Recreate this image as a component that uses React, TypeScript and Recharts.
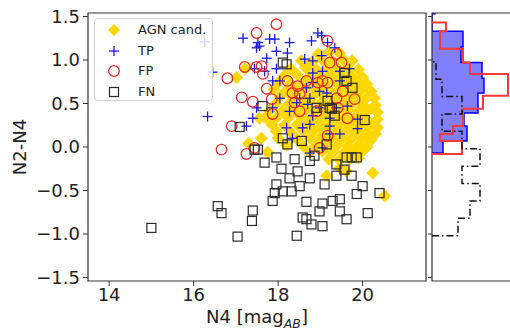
import React from 'react';
import { ScatterChart, Scatter, XAxis, YAxis, ReferenceArea, ComposedChart, Area, Line } from 'recharts';

const X_TICKS = [14, 16, 18, 20];
const Y_TICKS = [-1.5, -1, -0.5, 0, 0.5, 1, 1.5];

// [N4, N2-N4]
const AGN_CAND: [number, number][] = [
  [17.02, 0.8], [17.22, 0.9], [17.56, 0.33], [17.6, 0.1], [17.3, 0.04], [17.75, -0.06],
  [18.95, 1.07], [19.2, 1.09], [19.45, 1.08],
  [18.55, 0.99], [18.8, 0.98], [19.05, 1.0], [19.3, 0.98], [19.55, 1.0], [19.75, 0.99],
  [18.3, 0.9], [18.65, 0.91], [18.9, 0.89], [19.15, 0.9], [19.4, 0.91], [19.65, 0.9], [19.9, 0.89],
  [18.15, 0.82], [18.45, 0.83], [18.75, 0.81], [19.0, 0.82], [19.25, 0.83], [19.5, 0.82], [19.75, 0.81], [20.0, 0.8],
  [18.0, 0.74], [18.3, 0.73], [18.6, 0.74], [18.85, 0.75], [19.1, 0.73], [19.35, 0.74], [19.6, 0.74], [19.85, 0.73], [20.1, 0.72],
  [17.9, 0.66], [18.2, 0.65], [18.45, 0.66], [18.7, 0.67], [18.95, 0.66], [19.2, 0.65], [19.45, 0.66], [19.7, 0.66], [19.95, 0.65], [20.2, 0.64],
  [18.05, 0.58], [18.35, 0.57], [18.6, 0.58], [18.85, 0.59], [19.1, 0.58], [19.35, 0.57], [19.6, 0.58], [19.85, 0.58], [20.1, 0.57], [20.28, 0.56],
  [17.95, 0.5], [18.25, 0.49], [18.5, 0.5], [18.75, 0.51], [19.0, 0.5], [19.25, 0.49], [19.5, 0.5], [19.75, 0.5], [20.0, 0.49], [20.3, 0.48],
  [17.8, 0.42], [18.1, 0.41], [18.4, 0.42], [18.65, 0.43], [18.9, 0.42], [19.15, 0.41], [19.4, 0.42], [19.65, 0.42], [19.9, 0.41], [20.15, 0.42], [20.35, 0.4],
  [17.7, 0.34], [17.95, 0.33], [18.25, 0.34], [18.55, 0.35], [18.8, 0.34], [19.05, 0.33], [19.3, 0.34], [19.55, 0.34], [19.8, 0.33], [20.05, 0.34], [20.35, 0.32],
  [17.85, 0.26], [18.15, 0.25], [18.45, 0.26], [18.7, 0.27], [18.95, 0.26], [19.2, 0.25], [19.45, 0.26], [19.7, 0.26], [19.95, 0.25], [20.2, 0.26], [20.35, 0.22],
  [17.95, 0.18], [18.3, 0.17], [18.6, 0.18], [18.85, 0.19], [19.1, 0.18], [19.35, 0.17], [19.6, 0.18], [19.85, 0.18], [20.1, 0.17], [20.3, 0.15],
  [18.0, 0.1], [18.45, 0.09], [18.75, 0.1], [19.0, 0.11], [19.25, 0.1], [19.5, 0.09], [19.75, 0.1], [20.0, 0.1], [20.2, 0.08],
  [18.2, 0.02], [18.6, 0.01], [18.9, 0.02], [19.15, 0.03], [19.4, 0.02], [19.65, 0.01], [19.9, 0.02], [20.1, 0.0],
  [18.75, -0.06], [19.05, -0.05], [19.3, -0.06], [19.55, -0.07], [19.8, -0.06], [20.0, -0.05],
  [19.2, -0.14], [19.45, -0.15], [19.7, -0.14], [19.9, -0.13],
  [19.15, -0.33], [19.46, -0.24], [19.62, -0.28], [20.24, -0.3], [20.52, -0.56],
];

const TP: [number, number][] = [
  [16.26, 1.21], [17.17, 1.25], [16.45, 0.86], [16.33, 0.35], [17.25, 0.24], [17.4, 0.33], [17.49, 0.45], [17.49, 1.14], [17.44, 0.9],
  [17.52, 1.2], [17.56, 1.16], [17.8, 1.24], [17.92, 1.24], [18.27, 1.2], [17.96, 1.1], [18.22, 1.08], [18.79, 1.22], [18.94, 1.31],
  [19.03, 1.28], [19.17, 1.2], [19.34, 1.14], [17.73, 1.02], [17.68, 0.87], [17.96, 0.9], [18.04, 0.76], [17.87, 0.76], [18.63, 1.01],
  [18.82, 0.99], [19.03, 1.05], [18.82, 0.85], [19.05, 0.87], [19.46, 0.87], [19.69, 0.9], [19.46, 0.76], [18.82, 0.74], [18.67, 0.68],
  [18.98, 0.64], [19.15, 0.62], [18.04, 0.56], [18.51, 0.56], [18.75, 0.56], [17.87, 0.45], [18.27, 0.41], [18.44, 0.51], [18.7, 0.49],
  [18.82, 0.36], [18.98, 0.45], [19.22, 0.33], [19.38, 0.45], [19.64, 0.47], [19.88, 0.32], [18.2, 0.22], [18.58, 0.22], [18.75, 0.26],
  [19.22, 0.24], [19.46, 0.15], [19.88, 0.21], [18.34, 0.1], [19.22, 0.15], [19.05, -0.01], [18.75, -0.07],
];

const FP: [number, number][] = [
  [17.49, 1.31], [17.21, 0.92], [17.49, 0.92], [16.8, 0.79], [17.14, 0.57], [17.4, 0.52], [16.9, 0.24], [16.66, -0.03], [17.25, -0.08],
  [17.96, 1.41], [19.17, 1.22], [17.61, 0.93], [17.64, 0.84], [17.73, 0.67], [17.85, 0.55], [17.87, 0.38], [17.44, -0.01], [18.22, 0.76],
  [18.46, 0.7], [18.67, 0.76], [18.94, 0.74], [19.05, 0.76], [19.17, 0.74], [19.22, 0.97], [19.38, 1.07], [19.5, 0.97], [18.34, 0.62],
  [18.51, 0.61], [19.38, 0.56], [19.53, 0.64], [19.81, 0.55], [19.64, 0.33], [19.41, 0.45], [18.39, 0.51], [18.51, 0.41], [18.91, 0.41],
  [19.17, 0.13], [18.98, -0.01],
];

const FN: [number, number][] = [
  [15.0, -0.93], [16.57, -0.68], [16.66, -0.76], [17.04, -1.03], [17.4, -0.73], [17.38, -0.85],
  [17.68, -0.18], [17.96, -0.12], [18.39, -0.14], [18.08, -0.25], [18.27, -0.36], [18.46, -0.28], [18.75, -0.36], [17.96, -0.43],
  [17.92, -0.53], [18.11, -0.51], [18.32, -0.51], [18.51, -0.45], [17.87, -0.62], [18.67, -0.63], [18.98, -0.74], [19.05, -0.65],
  [19.05, -0.91], [18.58, -0.81], [18.67, -0.83], [18.79, -0.89], [18.44, -1.02], [19.29, -0.62], [19.46, -0.6], [19.46, -0.74],
  [19.62, -0.83], [19.1, -0.43], [19.38, -0.33], [19.57, -0.26], [19.74, -0.33], [19.62, -0.12], [19.74, -0.12], [19.86, -0.12],
  [19.86, -0.54], [20.0, -0.45], [20.12, -0.76], [20.4, -0.53], [18.75, -0.16],
  [18.11, 0.97], [18.2, 0.95], [17.63, 0.47], [17.09, 0.23], [19.57, 0.85], [19.62, 0.76], [19.76, 0.68], [19.17, 0.53], [19.22, 0.45],
  [19.27, 0.44], [19.34, 0.36], [18.91, 0.45], [20.05, 0.31], [18.56, 0.07], [18.11, 0.1], [18.22, 0.03], [18.86, -0.1], [19.15, 0.03],
  [17.44, -0.03], [17.52, -0.03], [19.38, -0.2],
];

// side histograms (horizontal): bin edges in N2-N4, counts
const TP_EDGES = [-0.07, 0.07, 0.24, 0.39, 0.62, 0.79, 0.97, 1.15, 1.33, 1.53, 1.56];
const TP_COUNTS = [11, 35, 32, 46, 52, 50, 29, 31, 0, 3];
const FP_EDGES = [-0.08, 0.07, 0.15, 0.24, 0.44, 0.59, 0.84, 0.97, 1.13, 1.33, 1.43];
const FP_COUNTS = [30, 8, 21, 31, 51, 76, 38, 31, 8, 14];
const FN_EDGES = [-1.02, -0.82, -0.62, -0.42, -0.22, -0.02, 0.18, 0.38, 0.58, 0.78, 0.98];
const FN_COUNTS = [26, 38, 48, 30, 48, 30, 10, 30, 10, 4];

const FONT = '"DejaVu Sans", sans-serif';
const GOLD = '#ffd700';
const BLUE = '#1a1ae0';
const RED = '#e52a2a';
const DARK = '#2b2b2b';

const toPts = (arr: [number, number][]) => arr.map(([x, y]) => ({ x, y }));

function steps(edges: number[], counts: number[]) {
  const pts = [{ y: edges[0], v: 0 }];
  counts.forEach((c, i) => {
    pts.push({ y: edges[i], v: c });
    pts.push({ y: edges[i + 1], v: c });
  });
  pts.push({ y: edges[edges.length - 1], v: 0 });
  return pts;
}

const DiamondShape = (p: any) => (
  <polygon points={`${p.cx},${p.cy - 6.5} ${p.cx + 6.5},${p.cy} ${p.cx},${p.cy + 6.5} ${p.cx - 6.5},${p.cy}`} fill={GOLD} />
);
const PlusShape = (p: any) => (
  <g stroke={BLUE} strokeWidth={1.3}>
    <line x1={p.cx - 5} y1={p.cy} x2={p.cx + 5} y2={p.cy} />
    <line x1={p.cx} y1={p.cy - 5} x2={p.cx} y2={p.cy + 5} />
  </g>
);
const CircleShape = (p: any) => <circle cx={p.cx} cy={p.cy} r={5.3} fill="none" stroke={RED} strokeWidth={1.3} />;
const SquareShape = (p: any) => (
  <rect x={p.cx - 4.5} y={p.cy - 4.5} width={9} height={9} fill="none" stroke={DARK} strokeWidth={1.2} />
);

const XLabel = ({ viewBox }: any) => (
  <text x={viewBox.x + viewBox.width / 2} y={viewBox.y + 42} textAnchor="middle" fontSize={18} fontFamily={FONT} fill="#222">
    N4 [mag
    <tspan fontSize={12.5} fontStyle="italic" dy={5}>AB</tspan>
    <tspan dy={-5}>]</tspan>
  </text>
);

const YLabel = ({ viewBox }: any) => (
  <text x={20} y={viewBox.y + viewBox.height / 2} textAnchor="middle" fontSize={18} fontFamily={FONT} fill="#222"
    transform={`rotate(-90, 20, ${viewBox.y + viewBox.height / 2})`} dy={6}>
    N2-N4
  </text>
);

const fmtY = (v: number) => (v < 0 ? '\u2212' : '') + Math.abs(v).toFixed(1);
const tickStyle = { fontSize: 18, fill: '#222', fontFamily: FONT };

const LEGEND = [
  { label: 'AGN cand.', mark: <polygon points="7,1 13,7 7,13 1,7" fill={GOLD} /> },
  { label: 'TP', mark: <g stroke={BLUE} strokeWidth={1.3}><line x1={2} y1={7} x2={12} y2={7} /><line x1={7} y1={2} x2={7} y2={12} /></g> },
  { label: 'FP', mark: <circle cx={7} cy={7} r={5.3} fill="none" stroke={RED} strokeWidth={1.3} /> },
  { label: 'FN', mark: <rect x={2.5} y={2.5} width={9} height={9} fill="none" stroke={DARK} strokeWidth={1.2} /> },
];

export default function App() {
  return (
    <div style={{ position: 'absolute', left: 0, top: 0, width: 510, height: 331, overflow: 'hidden', background: '#fff', fontFamily: FONT }}>
      <div style={{ position: 'absolute', left: 0, top: 0 }}>
        <ScatterChart width={440} height={331} margin={{ top: 13, right: 14, bottom: 0, left: 0 }}>
          <XAxis type="number" dataKey="x" domain={[13.5, 21.5]} ticks={X_TICKS} allowDataOverflow
            axisLine={false} tickSize={5} tickMargin={2} stroke="#333" tick={tickStyle} height={50} label={<XLabel />} />
          <YAxis type="number" dataKey="y" domain={[-1.54, 1.54]} ticks={Y_TICKS} allowDataOverflow
            axisLine={false} tickSize={5} tickMargin={3} stroke="#333" tick={tickStyle} width={88}
            tickFormatter={fmtY} label={<YLabel />} />
          <Scatter data={toPts(AGN_CAND)} shape={DiamondShape} isAnimationActive={false} />
          <Scatter data={toPts(TP)} shape={PlusShape} isAnimationActive={false} />
          <Scatter data={toPts(FP)} shape={CircleShape} isAnimationActive={false} />
          <Scatter data={toPts(FN)} shape={SquareShape} isAnimationActive={false} />
          <ReferenceArea x1={13.5} x2={21.5} y1={-1.54} y2={1.54} fill="none" stroke="#333" strokeWidth={1.2} />
        </ScatterChart>
      </div>

      <div style={{ position: 'absolute', left: 420, top: 0 }}>
        {/* vertical layout runs the y axis top-down, so flip it */}
        <ComposedChart layout="vertical" width={112} height={331} margin={{ top: 13, right: 0, bottom: 50, left: 0 }}>
          <XAxis type="number" domain={[0, 100]} allowDataOverflow hide />
          <YAxis type="number" dataKey="y" domain={[-1.54, 1.54]} ticks={Y_TICKS} allowDataOverflow width={12} reversed
            axisLine={false} tickSize={4} stroke="#333" tickFormatter={() => ''} />
          <Area data={steps(TP_EDGES, TP_COUNTS)} dataKey="v" type="linear" fill="#0000ff" fillOpacity={0.5}
            stroke="#0000ff" strokeWidth={1.5} dot={false} activeDot={false} isAnimationActive={false} />
          <Line data={steps(FP_EDGES, FP_COUNTS)} dataKey="v" type="linear" stroke="#f23a3a" strokeWidth={2}
            dot={false} activeDot={false} isAnimationActive={false} />
          <Line data={steps(FN_EDGES, FN_COUNTS)} dataKey="v" type="linear" stroke="#111" strokeWidth={1.5}
            strokeDasharray="7 3 1.5 3" dot={false} activeDot={false} isAnimationActive={false} />
          <ReferenceArea x1={0} x2={100} y1={-1.54} y2={1.54} fill="none" stroke="#333" strokeWidth={1.2} />
        </ComposedChart>
      </div>

      <div style={{ position: 'absolute', left: 94, top: 18, width: 119, height: 83, border: '1px solid #d0d0d0', borderRadius: 4,
        background: 'rgba(255,255,255,0.8)', boxSizing: 'border-box' }}>
        {LEGEND.map((e, i) => (
          <div key={e.label} style={{ position: 'absolute', left: 12, top: 3 + i * 20.5, height: 16, display: 'flex', alignItems: 'center' }}>
            <svg width={14} height={14} style={{ display: 'block' }}>{e.mark}</svg>
            <span style={{ marginLeft: 17, fontSize: 13, color: '#222', lineHeight: '16px', whiteSpace: 'nowrap' }}>{e.label}</span>
          </div>
        ))}
      </div>
    </div>
  );
}
